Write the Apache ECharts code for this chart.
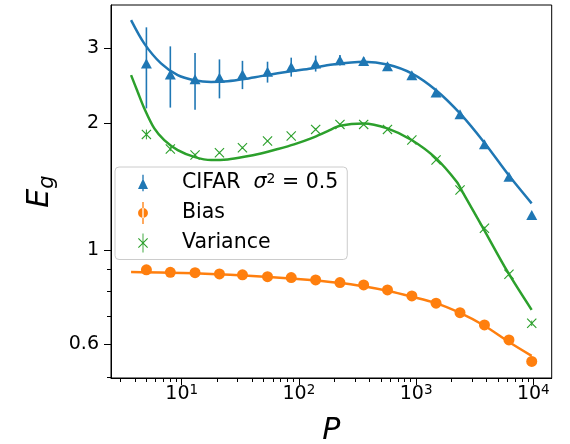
<!DOCTYPE html>
<html><head><meta charset="utf-8">
<script src="https://cdn.jsdelivr.net/npm/echarts@6/dist/echarts.min.js"></script>
<style>html,body{margin:0;padding:0;background:#fff}#c{width:570px;height:444px}</style>
</head><body><div id="c"></div>
<script>
// ---- data ----
const P = [5, 8, 13, 21, 33, 54, 86, 139, 224, 357, 570, 920, 1480, 2370, 3830, 6200, 9700];
const cifar = [2.765, 2.604, 2.538, 2.556, 2.604, 2.641, 2.713, 2.765, 2.814, 2.80, 2.724, 2.594, 2.36, 2.096, 1.780, 1.492, 1.212];
const cifarErr = [0.6, 0.43, 0.39, 0.27, 0.2, 0.15, 0.14, 0.12, 0.08, 0.06, 0.05, 0.04, 0.03, 0.03, 0.02, 0.02, 0.02];
const bias = [0.899, 0.887, 0.885, 0.879, 0.875, 0.866, 0.862, 0.851, 0.839, 0.828, 0.806, 0.780, 0.750, 0.712, 0.666, 0.614, 0.546];
const variance = [1.879, 1.735, 1.679, 1.70, 1.747, 1.812, 1.862, 1.931, 1.984, 1.984, 1.931, 1.822, 1.634, 1.388, 1.127, 0.878, 0.672];
const varianceErr = [0.05, 0.02, 0.015, 0.01, 0.01, 0.01, 0.01, 0.01, 0.01, 0.01, 0.01, 0.01, 0.01, 0.01, 0.01, 0.01, 0.01];
const cifarCurve = [[3.7,3.50],[4.8,3.08],[6.66,2.765],[9.25,2.594],[12.8,2.524],[17.8,2.50],[24.7,2.51],[34.2,2.54],[47.4,2.58],[66,2.62],[91.4,2.655],[127,2.69],[180,2.74],[355,2.79],[568,2.75],[916,2.62],[1480,2.39],[2370,2.106],[3800,1.80],[6150,1.506],[9680,1.291]];
const varianceCurve = [[3.7,2.594],[4.21,2.369],[4.8,2.164],[5.84,1.941],[7.1,1.822],[9.25,1.725],[12.8,1.663],[17.8,1.634],[24.7,1.64],[34.2,1.663],[47.4,1.694],[66,1.735],[91,1.78],[127,1.839],[176,1.913],[224,1.969],[355,1.995],[568,1.941],[916,1.822],[1480,1.649],[2220,1.452],[2530,1.363],[3740,1.127],[6030,0.890],[9680,0.723]];
const biasCurve = [[3.7,0.889],[12.8,0.883],[34,0.872],[91,0.856],[224,0.837],[355,0.822],[568,0.802],[916,0.777],[1480,0.750],[2370,0.711],[3800,0.664],[6150,0.608],[9680,0.563]];
const xMajorTicks = [10, 100, 1000, 10000];
const xMinorTicks = [3,4,5,6,7,8,9,20,30,40,50,60,70,80,90,200,300,400,500,600,700,800,900,2000,3000,4000,5000,6000,7000,8000,9000];
const yLabelTicks = [0.6, 1, 2, 3];
const yMinorTicks = [0.5, 0.7, 0.8, 0.9];
const names = ['CIFAR', 'Bias', 'Variance'];

// ---- style ----
const FONT = 'DejaVu Sans';
const C_BLUE = '#1f77b4', C_ORANGE = '#ff7f0e', C_GREEN = '#2ca02c';
const X_PATH = 'path://M0,8 L8,0 L50,42 L92,0 L100,8 L58,50 L100,92 L92,100 L50,58 L8,100 L0,92 L42,50 Z';
const ICON_BLUE = 'path://M3.9,0 H5.1 V15 H3.9 Z M4.5,3.4 L9,13 L0,13 Z';
const ICON_ORANGE = 'path://M3.9,0 H5.1 V20 H3.9 Z M0,10 A4.5,4.5 0 1,0 9,10 A4.5,4.5 0 1,0 0,10 Z';
const ICON_GREEN = 'path://M4.1,0 H4.9 V17 H4.1 Z M0,4.7 L0.7,4 L4.5,7.8 L8.3,4 L9,4.7 L5.2,8.5 L9,12.3 L8.3,13 L4.5,9.2 L0.7,13 L0,12.3 L3.8,8.5 Z';

const GRID = {left: 111, top: 5, width: 440.7, height: 373};
const XMIN = 2.494, XMAX = 14355, YMIN = 0.499, YMAX = 3.8;

function errBars(xs, ys, es, color, w) {
  return {
    type: 'custom', xAxisIndex: 0, yAxisIndex: 0, silent: true, z: 2,
    data: xs.map((p, i) => [p, ys[i] - es[i], ys[i] + es[i]]),
    encode: {x: 0, y: [1, 2]},
    renderItem: function (params, api) {
      const a = api.coord([api.value(0), api.value(1)]);
      const b = api.coord([api.value(0), api.value(2)]);
      return {type: 'line', shape: {x1: a[0], y1: a[1], x2: b[0], y2: b[1]},
              style: {stroke: color, lineWidth: w}};
    }
  };
}

const chart = echarts.init(document.getElementById('c'), null, {renderer: 'canvas'});
chart.setOption({
  animation: false,
  backgroundColor: '#fff',
  grid: [
    Object.assign({show: true, borderColor: '#000', borderWidth: 1, backgroundColor: 'transparent', containLabel: false, outerBoundsMode: 'none'}, GRID),
    Object.assign({show: false, containLabel: false, outerBoundsMode: 'none'}, GRID)
  ],
  xAxis: [
    {
      type: 'log', logBase: 10, gridIndex: 0, position: 'bottom', min: XMIN, max: XMAX,
      name: 'P', nameLocation: 'middle', nameGap: 38,
      nameTextStyle: {fontFamily: FONT, fontSize: 30, fontStyle: 'italic', color: '#000'},
      axisLine: {show: true, lineStyle: {color: '#000', width: 1}},
      axisTick: {show: true, inside: false, length: 7, lineStyle: {color: '#000', width: 1}, customValues: xMajorTicks},
      axisLabel: {
        show: true, margin: 5, customValues: xMajorTicks, color: '#000',
        formatter: function (v) { return '{b|10}{s|' + Math.round(Math.log10(v)) + '}'; },
        rich: {
          b: {fontFamily: FONT, fontSize: 19, color: '#000', lineHeight: 22, verticalAlign: 'middle'},
          s: {fontFamily: FONT, fontSize: 13.5, color: '#000', lineHeight: 10, verticalAlign: 'top'}
        }
      },
      splitLine: {show: false}, minorTick: {show: false}, minorSplitLine: {show: false}
    },
    {
      type: 'log', logBase: 10, gridIndex: 1, position: 'bottom', min: XMIN, max: XMAX,
      axisLine: {show: false},
      axisTick: {show: true, inside: false, length: 4, lineStyle: {color: '#000', width: 1}, customValues: xMinorTicks},
      axisLabel: {show: false},
      splitLine: {show: false}, minorTick: {show: false}
    }
  ],
  yAxis: [
    {
      type: 'log', logBase: 10, gridIndex: 0, position: 'left', min: YMIN, max: YMAX,
      name: '{e|E}{g|g}', nameLocation: 'middle', nameRotate: 90, nameGap: 50,
      nameTextStyle: {
        rich: {
          e: {fontFamily: FONT, fontSize: 30, fontStyle: 'italic', color: '#000', lineHeight: 36, verticalAlign: 'middle'},
          g: {fontFamily: FONT, fontSize: 21, fontStyle: 'italic', color: '#000', lineHeight: 18, verticalAlign: 'bottom'}
        }
      },
      axisLine: {show: true, lineStyle: {color: '#000', width: 1}},
      axisTick: {show: true, inside: false, length: 7, lineStyle: {color: '#000', width: 1}, customValues: yLabelTicks},
      axisLabel: {
        show: true, margin: 12, customValues: yLabelTicks, color: '#000', fontFamily: FONT, fontSize: 19,
        formatter: function (v) { return String(+(+v).toPrecision(3)); }
      },
      splitLine: {show: false}, minorTick: {show: false}, minorSplitLine: {show: false}
    },
    {
      type: 'log', logBase: 10, gridIndex: 1, position: 'left', min: YMIN, max: YMAX,
      axisLine: {show: false},
      axisTick: {show: true, inside: false, length: 4, lineStyle: {color: '#000', width: 1}, customValues: yMinorTicks},
      axisLabel: {show: false},
      splitLine: {show: false}, minorTick: {show: false}
    }
  ],
  legend: {
    show: true, orient: 'vertical', left: 115, top: 167,
    itemWidth: 10, itemHeight: 22, itemGap: 8.5,
    padding: [5, 9, 6, 23],
    backgroundColor: 'rgba(255,255,255,0.8)', borderColor: '#cccccc', borderWidth: 1, borderRadius: 4,
    selectedMode: false,
    textStyle: {fontFamily: FONT, fontSize: 20.5, color: '#000', padding: [0, 0, 0, 29],
      rich: {
        t: {fontFamily: FONT, fontSize: 20.5, color: '#000', lineHeight: 22, verticalAlign: 'middle'},
        i: {fontFamily: FONT, fontSize: 20.5, fontStyle: 'italic', color: '#000', lineHeight: 22, verticalAlign: 'middle'},
        s: {fontFamily: FONT, fontSize: 14, color: '#000', lineHeight: 10, verticalAlign: 'top'}
      }
    },
    formatter: function (name) {
      if (name === 'CIFAR') return '{t|CIFAR  }{i|σ}{s|2}{t| = 0.5}';
      return '{t|' + name + '}';
    },
    data: [
      {name: names[0], icon: ICON_BLUE, itemStyle: {color: C_BLUE}},
      {name: names[1], icon: ICON_ORANGE, itemStyle: {color: C_ORANGE}},
      {name: names[2], icon: ICON_GREEN, itemStyle: {color: C_GREEN}}
    ]
  },
  series: [
    errBars(P, cifar, cifarErr, C_BLUE, 1.6),
    errBars(P, variance, varianceErr, C_GREEN, 1.0),
    {
      name: names[0], type: 'scatter', xAxisIndex: 0, yAxisIndex: 0, z: 3,
      symbol: 'triangle', symbolSize: [11, 10],
      itemStyle: {color: C_BLUE, opacity: 1},
      data: P.map((p, i) => [p, cifar[i]])
    },
    {
      name: names[1], type: 'scatter', xAxisIndex: 0, yAxisIndex: 0, z: 3,
      symbol: 'circle', symbolSize: 11,
      itemStyle: {color: C_ORANGE, opacity: 1},
      data: P.map((p, i) => [p, bias[i]])
    },
    {
      name: names[2], type: 'scatter', xAxisIndex: 0, yAxisIndex: 0, z: 3,
      symbol: X_PATH, symbolSize: 10,
      itemStyle: {color: C_GREEN, opacity: 1},
      data: P.map((p, i) => [p, variance[i]])
    },
    {
      name: 'cifarFit', type: 'line', xAxisIndex: 0, yAxisIndex: 0, z: 4,
      showSymbol: false, smooth: 0.3, lineStyle: {color: C_BLUE, width: 2.5}, itemStyle: {color: C_BLUE},
      data: cifarCurve
    },
    {
      name: 'biasFit', type: 'line', xAxisIndex: 0, yAxisIndex: 0, z: 4,
      showSymbol: false, smooth: 0.3, lineStyle: {color: C_ORANGE, width: 2.5}, itemStyle: {color: C_ORANGE},
      data: biasCurve
    },
    {
      name: 'varianceFit', type: 'line', xAxisIndex: 0, yAxisIndex: 0, z: 4,
      showSymbol: false, smooth: 0.3, lineStyle: {color: C_GREEN, width: 2.5}, itemStyle: {color: C_GREEN},
      data: varianceCurve
    }
  ]
});
</script>
</body></html>
